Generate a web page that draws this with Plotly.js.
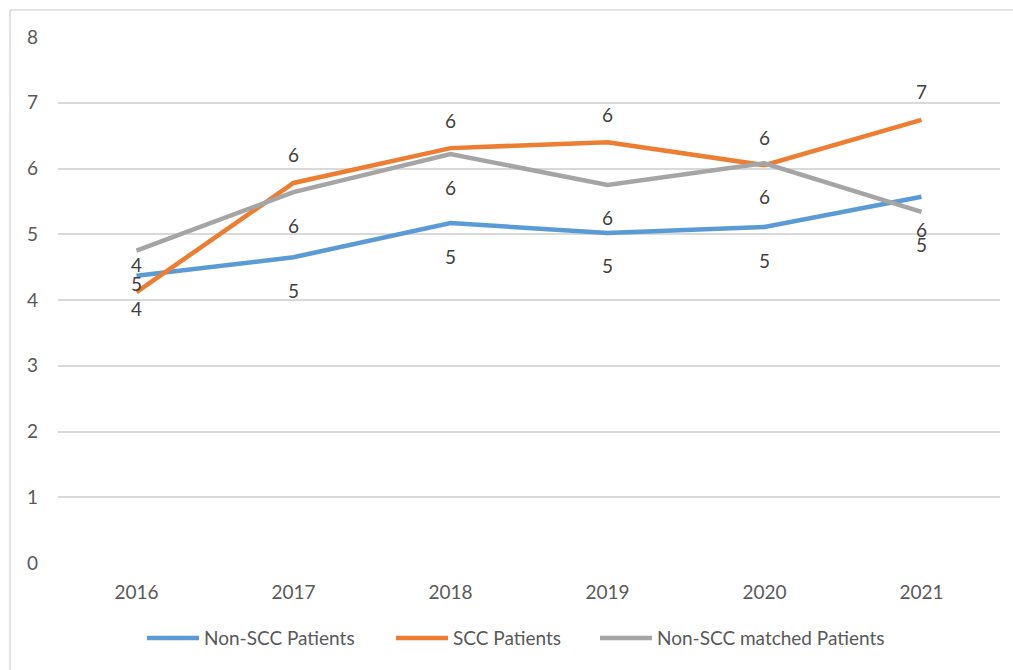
<!DOCTYPE html>
<html>
<head>
<meta charset="utf-8">
<script src="https://cdn.plot.ly/plotly-3.0.1.min.js"></script>
<style>
  html, body { margin: 0; padding: 0; background: #fff; }
  #plot { width: 1013px; height: 670px; }
</style>
</head>
<body>
<div id="plot"></div>
<script>
  // years on the x axis
  var years = ["2016", "2017", "2018", "2019", "2020", "2021"];

  // series values
  var nonScc = [4.37, 4.65, 5.17, 5.02, 5.11, 5.57];
  var scc = [4.12, 5.78, 6.31, 6.40, 6.05, 6.74];
  var nonSccMatched = [4.75, 5.64, 6.22, 5.75, 6.08, 5.34];

  var font = "Lato, 'Open Sans', sans-serif";

  // one legend per series so the entries can be spaced like the original
  var trace1 = {
    x: years,
    y: nonScc,
    name: "Non-SCC Patients",
    legend: "legend",
    type: "scatter",
    mode: "lines",
    line: { color: "#5B9BD5", width: 4.5 }
  };

  var trace2 = {
    x: years,
    y: scc,
    name: "SCC Patients",
    legend: "legend2",
    type: "scatter",
    mode: "lines",
    line: { color: "#ED7D31", width: 4.5 }
  };

  var trace3 = {
    x: years,
    y: nonSccMatched,
    name: "Non-SCC matched Patients",
    legend: "legend3",
    type: "scatter",
    mode: "lines",
    line: { color: "#A5A5A5", width: 4.5 }
  };

  // data labels: SCC above the line, the other two below
  var annotations = [];
  function addLabels(values, shift) {
    values.forEach(function (v, i) {
      annotations.push({
        xref: "x",
        yref: "y",
        x: i,
        y: v,
        text: String(Math.round(v)),
        showarrow: false,
        yanchor: "middle",
        yshift: shift,
        font: { family: font, size: 19, color: "#404040" }
      });
    });
  }
  addLabels(nonScc, -33);
  addLabels(scc, 28);
  addLabels(nonSccMatched, -33);

  var data = [trace1, trace2, trace3];

  function legendAt(px) {
    return {
      orientation: "h",
      x: (px - 58) / 942,
      xanchor: "left",
      y: -0.143,
      yanchor: "middle",
      itemwidth: 52,
      font: { family: font, size: 19, color: "#595959" }
    };
  }

  var layout = {
    width: 1013,
    height: 670,
    paper_bgcolor: "#fff",
    plot_bgcolor: "#fff",
    font: { family: font, size: 19, color: "#595959" },
    showlegend: true,
    margin: { l: 58, r: 13, t: 37, b: 107 },
    xaxis: {
      type: "category",
      range: [-0.5, 5.5],
      showgrid: false,
      zeroline: false,
      showline: false,
      ticks: "",
      ticklabelstandoff: 16,
      tickfont: { family: font, size: 19, color: "#595959" }
    },
    yaxis: {
      range: [0, 8],
      dtick: 1,
      showgrid: true,
      gridcolor: "#D9D9D9",
      gridwidth: 1.5,
      zeroline: false,
      showline: false,
      ticks: "",
      ticklabelstandoff: 19,
      tickfont: { family: font, size: 19, color: "#595959" }
    },
    legend: legendAt(142),
    legend2: legendAt(391),
    legend3: legendAt(595),
    annotations: annotations,
    // chart frame (left and top edges visible)
    shapes: [
      { type: "line", xref: "paper", yref: "paper", x0: -48 / 942, x1: -48 / 942, y0: -107 / 526, y1: 1 + 27 / 526, line: { color: "#D9D9D9", width: 1.5 } },
      { type: "line", xref: "paper", yref: "paper", x0: -48 / 942, x1: 1 + 13 / 942, y0: 1 + 27 / 526, y1: 1 + 27 / 526, line: { color: "#D9D9D9", width: 1.5 } }
    ]
  };

  Plotly.newPlot("plot", data, layout, { displayModeBar: false });
</script>
</body>
</html>
